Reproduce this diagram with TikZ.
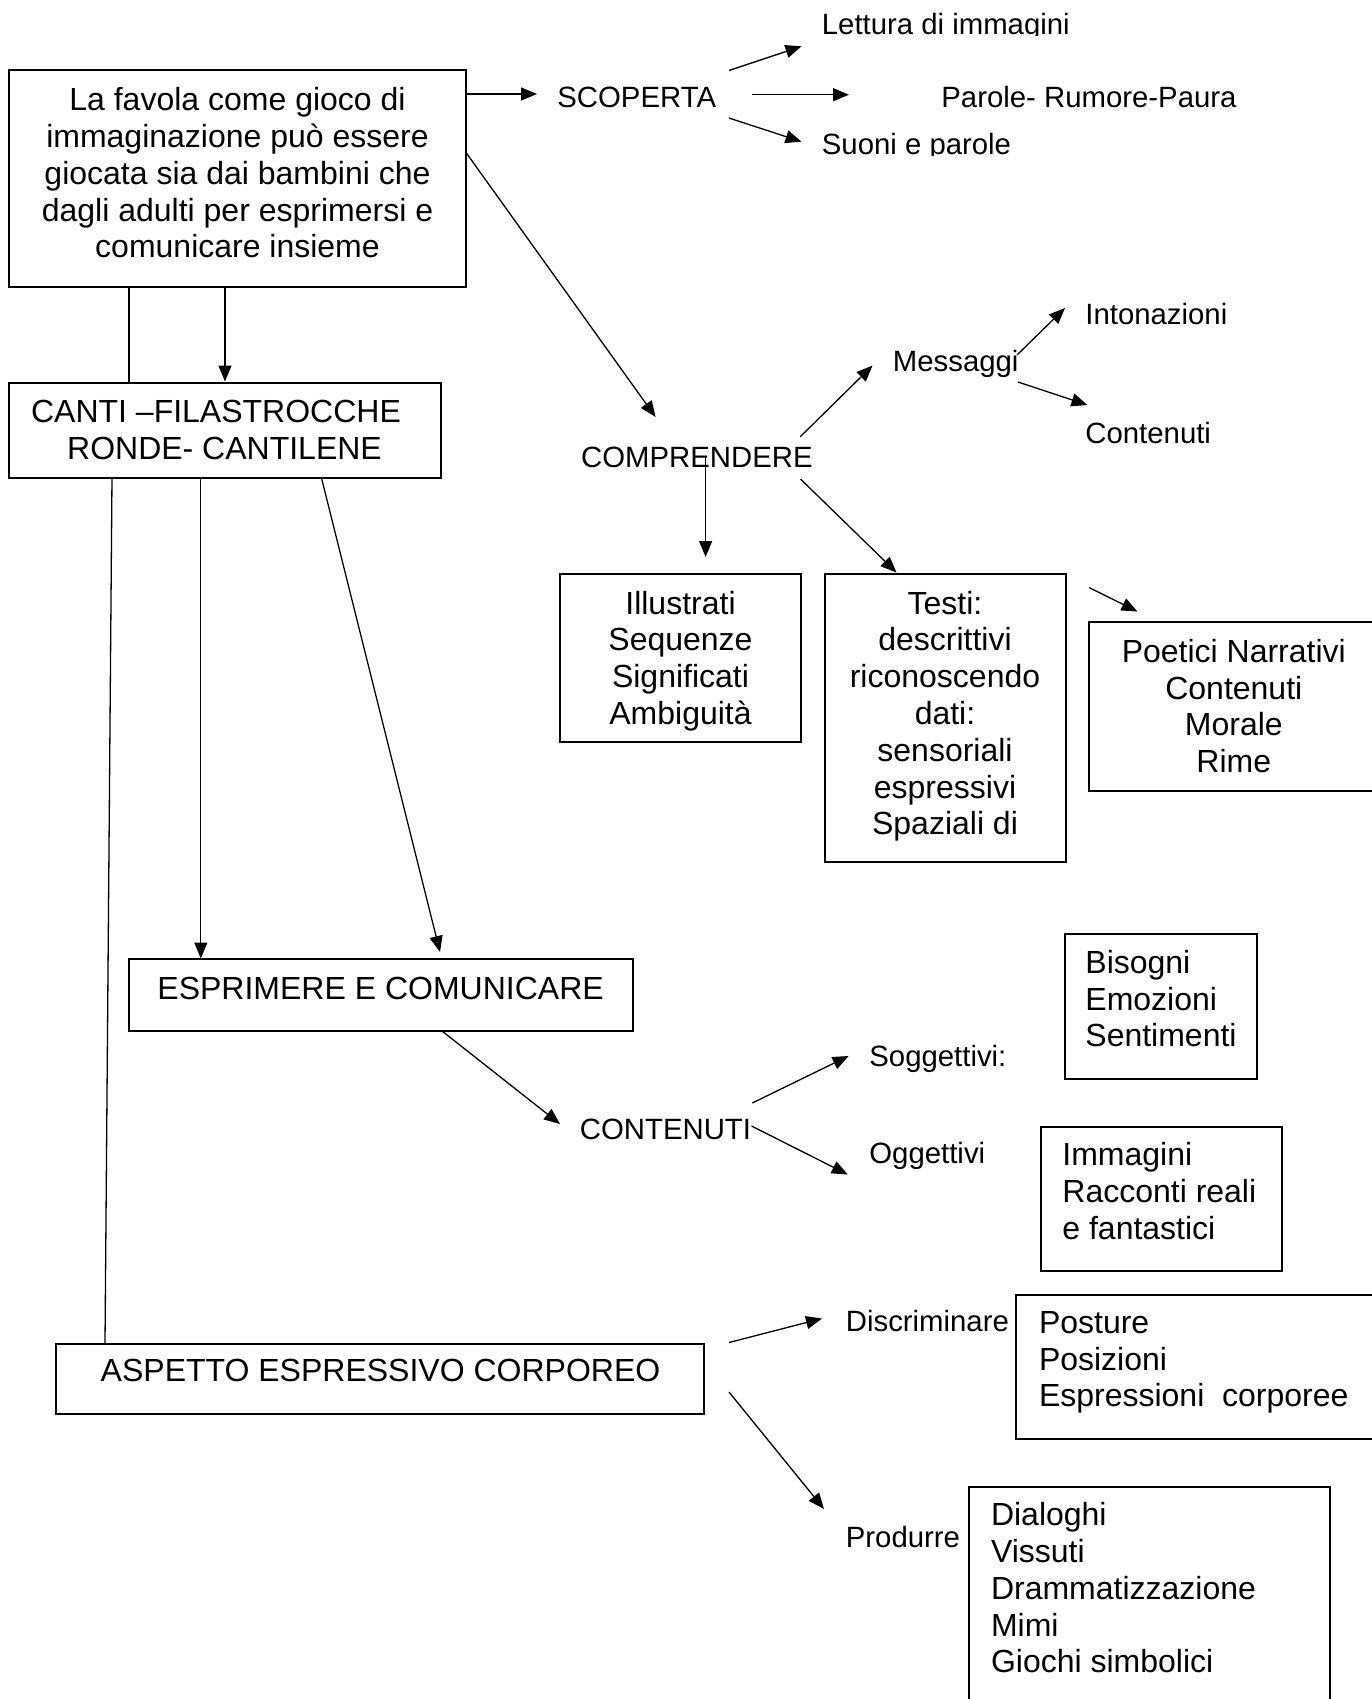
\documentclass[tikz,border=0pt]{standalone}
\usepackage{fontspec}
\setmainfont{Liberation Sans}
\usetikzlibrary{arrows.meta,fit}
\begin{document}
\begin{tikzpicture}[x=0.5pt,y=-0.5pt,
  box/.style={draw, line width=1pt, inner sep=0pt},
  conn/.style={line width=0.65pt},
  arr/.style={conn, -{Triangle[length=8pt,width=6.5pt]}},
  big/.style={font=\fontsize{16pt}{18.4pt}\selectfont, inner sep=0pt},
  small/.style={font=\fontsize{14.67pt}{17pt}\selectfont, inner sep=0pt},
]
\clip (0,0) rectangle (1372,1699);
\fill[white] (0,0) rectangle (1372,1699);

% ---------- boxes ----------
\node[box, fit={(9,70) (466,287)}] (main) {};
\node[box, fit={(8.5,382.5) (441,478)}] (canti) {};
\node[box, fit={(560,574.3) (801,742.3)}] (illu) {};
\node[box, fit={(825,574.3) (1065.5,861.5)}] (testi) {};
\node[box, fit={(1089.3,621.5) (1400,790.5)}] (poet) {};
\node[box, fit={(129,958.5) (633,1030.5)}] (espr) {};
\node[box, fit={(1065,934.3) (1257,1078.7)}] (biso) {};
\node[box, fit={(1040.8,1127.2) (1281.5,1270.5)}] (imma) {};
\node[box, fit={(56.4,1343.8) (704.4,1414.2)}] (aspe) {};
\node[box, fit={(1016.4,1294.5) (1400,1439)}] (post) {};
\node[box, fit={(968.5,1487) (1329.5,1730)}] (dial) {};

% ---------- box texts (anchor base = last line baseline) ----------
\node[big, align=center, anchor=base] (maintxt) at (237.5,257.9)
  {La favola come gioco di\\immaginazione può essere\\giocata sia dai bambini che\\dagli adulti per esprimersi e\\comunicare insieme};
\node[big, anchor=base west] (cantitxta) at (30.7,422.7) {CANTI –FILASTROCCHE};
\node[big, anchor=base] (cantitxtb) at (224.5,459.3) {RONDE- CANTILENE};
\node[big, align=center, anchor=base] (illutxt) at (680.5,724.4)
  {Illustrati\\Sequenze\\Significati\\Ambiguità};
\node[big, align=center, anchor=base] (testitxt) at (945,834.8)
  {Testi:\\descrittivi\\riconoscendo\\dati:\\sensoriali\\espressivi\\Spaziali di};
\node[big, align=center, anchor=base] (poettxt) at (1233.8,772.7)
  {Poetici Narrativi\\Contenuti\\Morale\\Rime};
\node[big, anchor=base] (esprtxt) at (380.6,999) {ESPRIMERE E COMUNICARE};
\node[big, align=left, anchor=base west] (bisotxt) at (1085,1046.9)
  {Bisogni\\Emozioni\\Sentimenti};
\node[big, align=left, anchor=base west] (immatxt) at (1062,1239.3)
  {Immagini\\Racconti reali\\e fantastici};
\node[big, anchor=base] (aspetxt) at (380.5,1381) {ASPETTO ESPRESSIVO CORPOREO};
\node[big, align=left, anchor=base west] (posttxt) at (1038.6,1406.9)
  {Posture\\Posizioni\\Espressioni\ \ corporee};
\node[big, align=left, anchor=base west] (dialtxt) at (990.6,1672.9)
  {Dialoghi\\Vissuti\\Drammatizzazione\\Mimi\\Giochi simbolici};

% ---------- free labels ----------
\node[small, anchor=base west] (scop) at (557,107) {SCOPERTA};
\begin{scope}
  \clip (800,0) rectangle (1120,35.6);
  \node[small, anchor=base west] (lett) at (821.5,34.3) {Lettura di immagini};
\end{scope}
\node[small, anchor=base west] (paro) at (941,107) {Parole- Rumore-Paura};
\begin{scope}
  \clip (800,120) rectangle (1120,155.6);
  \node[small, anchor=base west] (suon) at (821.5,154.3) {Suoni e parole};
\end{scope}
\node[small, anchor=base west] (comp) at (580.8,467) {COMPRENDERE};
\node[small, anchor=base west] (mess) at (892.5,371) {Messaggi};
\node[small, anchor=base west] (into) at (1085,324.5) {Intonazioni};
\node[small, anchor=base west] (cont) at (1085,443.5) {Contenuti};
\node[small, anchor=base west] (cnt) at (579.5,1139.3) {CONTENUTI};
\node[small, anchor=base west] (sogg) at (869,1066.7) {Soggettivi:};
\node[small, anchor=base west] (ogge) at (869,1163.5) {Oggettivi};
\node[small, anchor=base west] (disc) at (845.5,1331.7) {Discriminare};
\node[small, anchor=base west] (prod) at (845.5,1547) {Produrre};

% ---------- connector end points ----------
\coordinate (scopIn) at (537,94);
\coordinate (scopA) at (729,70.5);   \coordinate (lettIn) at (801.5,46.3);
\coordinate (scopB) at (752.3,94.7); \coordinate (paroIn) at (849,94.7);
\coordinate (scopC) at (729,118);    \coordinate (suonIn) at (801.5,141.7);
\coordinate (mainD) at (466,152.5);  \coordinate (compIn) at (655.6,417);
\coordinate (xL) at (129,0);         \coordinate (xR) at (225,0);
\coordinate (compA) at (800.3,436.7); \coordinate (messIn) at (872.5,365.6);
\coordinate (messA) at (1017,355);    \coordinate (intoIn) at (1065,308);
\coordinate (messB) at (1018,382);    \coordinate (contIn) at (1087.5,405);
\coordinate (compB) at (705.6,457);   \coordinate (illuIn) at (705.6,557);
\coordinate (compC) at (800.5,479);   \coordinate (testiIn) at (896.5,572.5);
\coordinate (loneA) at (1089,587.5);  \coordinate (loneB) at (1137.5,611.5);
\coordinate (cantiA) at (112,478);    \coordinate (aspeIn) at (105,1343.8);
\coordinate (cantiB) at (200.8,478);  \coordinate (esprInA) at (200.8,958.5);
\coordinate (cantiC) at (321.5,478);  \coordinate (esprInB) at (440,952);
\coordinate (esprA) at (442,1031);    \coordinate (cntIn) at (560,1124);
\coordinate (cntA) at (752.3,1103);   \coordinate (soggIn) at (848.6,1056);
\coordinate (cntB) at (751.5,1126);   \coordinate (oggeIn) at (847.8,1174.5);
\coordinate (aspeA) at (729,1342.5);  \coordinate (discIn) at (822,1318.5);
\coordinate (aspeB) at (729,1392);    \coordinate (prodIn) at (824,1509);

% ---------- connectors ----------
\draw[arr] (main.east |- scopIn) -- (scopIn);
\draw[arr] (scopA) -- (lettIn);
\draw[arr] (scopB) -- (paroIn);
\draw[arr] (scopC) -- (suonIn);
\draw[arr] (mainD) -- (compIn);
\draw[conn] (main.south -| xL) -- (canti.north -| xL);
\draw[arr] (main.south -| xR) -- (canti.north -| xR);
\draw[arr] (compA) -- (messIn);
\draw[arr] (messA) -- (intoIn);
\draw[arr] (messB) -- (contIn);
\draw[arr] (compB) -- (illuIn);
\draw[arr] (compC) -- (testiIn);
\draw[arr] (loneA) -- (loneB);
\draw[conn] (cantiA) -- (aspeIn);
\draw[arr] (cantiB) -- (esprInA);
\draw[arr] (cantiC) -- (esprInB);
\draw[arr] (esprA) -- (cntIn);
\draw[arr] (cntA) -- (soggIn);
\draw[arr] (cntB) -- (oggeIn);
\draw[arr] (aspeA) -- (discIn);
\draw[arr] (aspeB) -- (prodIn);
\end{tikzpicture}
\end{document}
